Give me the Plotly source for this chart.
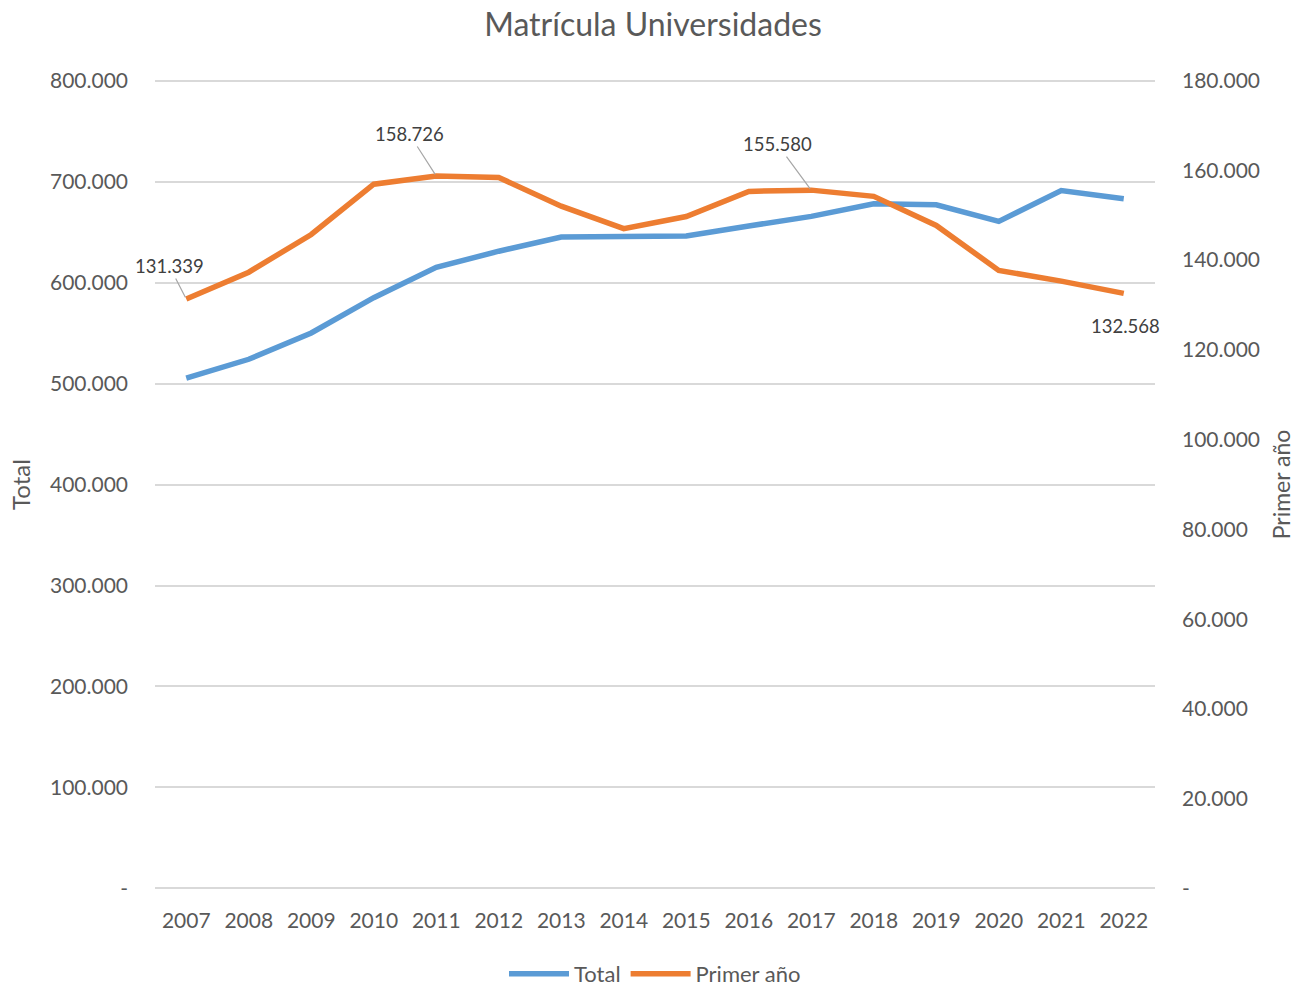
import plotly.graph_objects as go

years = ["2007", "2008", "2009", "2010", "2011", "2012", "2013", "2014",
         "2015", "2016", "2017", "2018", "2019", "2020", "2021", "2022"]
total = [505300, 524000, 550000, 585000, 615000, 631000, 645000, 645000,
         646000, 656000, 665500, 678000, 677000, 660500, 691000, 683000]
primer = [131339, 137300, 145700, 156900, 158726, 158400, 152000, 147000,
          149700, 155300, 155580, 154200, 147700, 137700, 135300, 132568]

left_tickvals = [0, 100000, 200000, 300000, 400000, 500000, 600000, 700000, 800000]
left_ticktext = ["-", "100.000", "200.000", "300.000", "400.000", "500.000",
                 "600.000", "700.000", "800.000"]
right_tickvals = [0, 20000, 40000, 60000, 80000, 100000, 120000, 140000, 160000, 180000]
right_ticktext = ["-", "20.000", "40.000", "60.000", "80.000", "100.000",
                  "120.000", "140.000", "160.000", "180.000"]

# labelled points: (index, ax, ay, leader line shown)
labelled = [(0, -17, -33, True), (4, -27, -42, True), (10, -34, -46, True), (15, 2, 33, False)]

FONT = "Lato"
GREY = "#595959"

fig = go.Figure()
fig.add_trace(go.Scatter(x=years, y=total, name="Total", mode="lines",
                         line=dict(color="#5B9BD5", width=5.5)))
fig.add_trace(go.Scatter(x=years, y=primer, name="Primer año", mode="lines",
                         line=dict(color="#ED7D31", width=5.5), yaxis="y2"))

def fmt(v):
    return f"{v:,}".replace(",", ".")

for i, ax, ay, lead in labelled:
    fig.add_annotation(x=i, y=primer[i], yref="y2", xref="x",
                       text=fmt(primer[i]), showarrow=True,
                       arrowhead=0, arrowwidth=1.2,
                       arrowcolor="#A6A6A6" if lead else "rgba(0,0,0,0)",
                       ax=ax, ay=ay, standoff=2,
                       font=dict(family=FONT, size=18.5, color="#404040"))

lp = 1500
rp = lp * 180000 / 800000
W, H = 1306, 986

fig.update_layout(
    width=W, height=H,
    paper_bgcolor="white", plot_bgcolor="white",
    margin=dict(l=155, r=151, t=79, b=96),
    title=dict(text="Matrícula Universidades", x=0.5, xanchor="center",
               yref="container", y=1 - 25 / H, yanchor="middle",
               font=dict(family=FONT, size=32, color=GREY)),
    font=dict(family=FONT, color=GREY),
    xaxis=dict(type="category", range=[-0.5, 15.5], showgrid=False,
               showline=False, ticks="", ticklabelstandoff=16, automargin=False,
               tickfont=dict(size=21, color=GREY)),
    yaxis=dict(range=[-lp, 800000 + lp], tickvals=left_tickvals, ticktext=left_ticktext,
               showgrid=True, gridcolor="#D9D9D9", gridwidth=1.5, zeroline=False,
               showline=False, ticks="", ticklabelstandoff=26, automargin=False,
               tickfont=dict(size=21, color=GREY),
               title=dict(text="Total", font=dict(size=24, color=GREY), standoff=12)),
    yaxis2=dict(range=[-rp, 180000 + rp], tickvals=right_tickvals, ticktext=right_ticktext,
                overlaying="y", side="right", showgrid=False, zeroline=False,
                showline=False, ticks="", ticklabelstandoff=26, automargin=False,
                tickfont=dict(size=21, color=GREY),
                title=dict(text="Primer año", font=dict(size=23, color=GREY), standoff=14)),
    legend=dict(orientation="h", x=0.5, xanchor="center",
                yref="container", y=(H - 974) / H, yanchor="middle",
                font=dict(size=22, color=GREY), itemwidth=60, tracegroupgap=0),
    showlegend=True,
)

fig.write_html("out.html", config={"displayModeBar": False},
               post_script="document.body.style.margin='0';document.body.style.overflow='hidden';")
